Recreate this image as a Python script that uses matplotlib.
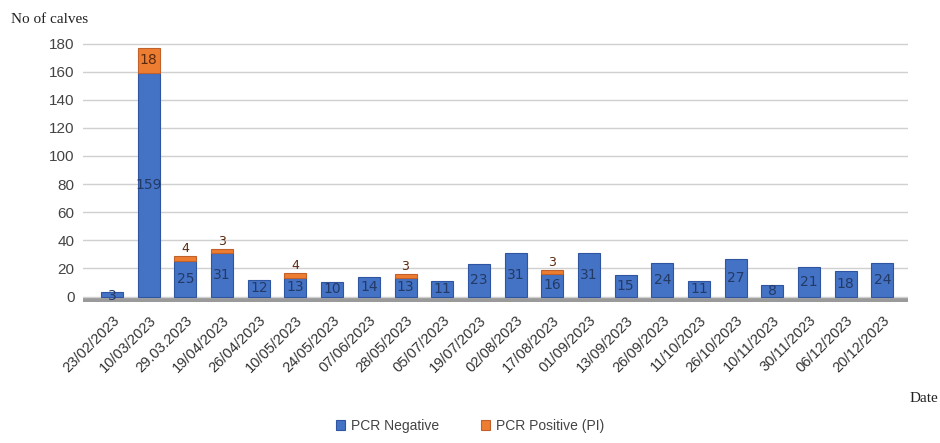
import matplotlib
matplotlib.use("Agg")
import matplotlib.pyplot as plt
import numpy as np

dates = ["23/02/2023", "10/03/2023", "29.03.2023", "19/04/2023", "26/04/2023",
         "10/05/2023", "24/05/2023", "07/06/2023", "28/05/2023", "05/07/2023",
         "19/07/2023", "02/08/2023", "17/08/2023", "01/09/2023", "13/09/2023",
         "26/09/2023", "11/10/2023", "26/10/2023", "10/11/2023", "30/11/2023",
         "06/12/2023", "20/12/2023"]
pcr_negative = [3, 159, 25, 31, 12, 13, 10, 14, 13, 11, 23, 31, 16, 31, 15,
                24, 11, 27, 8, 21, 18, 24]
pcr_positive = [0, 18, 4, 3, 0, 4, 0, 0, 3, 0, 0, 0, 3, 0, 0,
                0, 0, 0, 0, 0, 0, 0]
yticks = [0, 20, 40, 60, 80, 100, 120, 140, 160, 180]

blue = "#4472C4"
orange = "#ED7D31"

fig = plt.figure(figsize=(9.4, 4.43), dpi=100)
ax = fig.add_axes([0.088, 0.318, 0.878, 0.59])

x = np.arange(len(dates))
neg = np.array(pcr_negative)
pos = np.array(pcr_positive)
m = pos > 0

# floor
ax.axhspan(-4, 0, color="#9a9a9a", zorder=1, lw=0)

b1 = ax.bar(x, neg, width=0.6, color=blue, edgecolor="#2f55a0", linewidth=0.8,
            zorder=3, label="PCR Negative")
b2 = ax.bar(x[m], pos[m], bottom=neg[m], width=0.6, color=orange,
            edgecolor="#c0602a", linewidth=0.8, zorder=3,
            label="PCR Positive (PI)")

for xi, n, p in zip(x, neg, pos):
    ax.text(xi, n / 2 if n > 4 else 0.5, str(n), ha="center",
            va="center", fontsize=10, color="#243a66", zorder=4)
    if p > 10:
        ax.text(xi, n + p / 2, str(p), ha="center", va="center", fontsize=10,
                color="#5a2a10", zorder=4)
    elif p > 0:
        ax.text(xi, n + p + 0.5, str(p), ha="center", va="bottom", fontsize=9,
                color="#5a2a10", zorder=4)

ax.set_ylim(-4, 182)
ax.set_xlim(-0.8, len(dates) - 0.3)
ax.set_yticks(yticks)
ax.set_yticklabels([str(t) for t in yticks], fontsize=11, color="#444444",
                   family="Liberation Sans")
ax.set_xticks(x)
ax.set_xticklabels(dates, rotation=45, ha="right", rotation_mode="anchor",
                   fontsize=10.5, color="#333333", family="Liberation Sans")
ax.tick_params(axis="both", length=0, pad=6)
ax.tick_params(axis="x", pad=8)
ax.grid(axis="y", color="#d0d0d0", linewidth=1.0, zorder=0)
for s in ax.spines.values():
    s.set_visible(False)

fig.text(0.012, 0.955, "No of calves", fontsize=11, family="Liberation Serif",
         color="#222222", ha="left", va="center")
fig.text(0.968, 0.1, "Date", fontsize=11, family="Liberation Serif",
         color="#222222", ha="left", va="center")

leg = fig.legend(handles=[b1, b2], loc="lower center", ncol=2,
                 bbox_to_anchor=(0.5, -0.005), frameon=False,
                 handlelength=0.7, handleheight=0.7, columnspacing=3.0,
                 handletextpad=0.4, prop={"family": "Liberation Sans", "size": 10})
for t in leg.get_texts():
    t.set_color("#444444")

fig.savefig("out.png", dpi=100)
